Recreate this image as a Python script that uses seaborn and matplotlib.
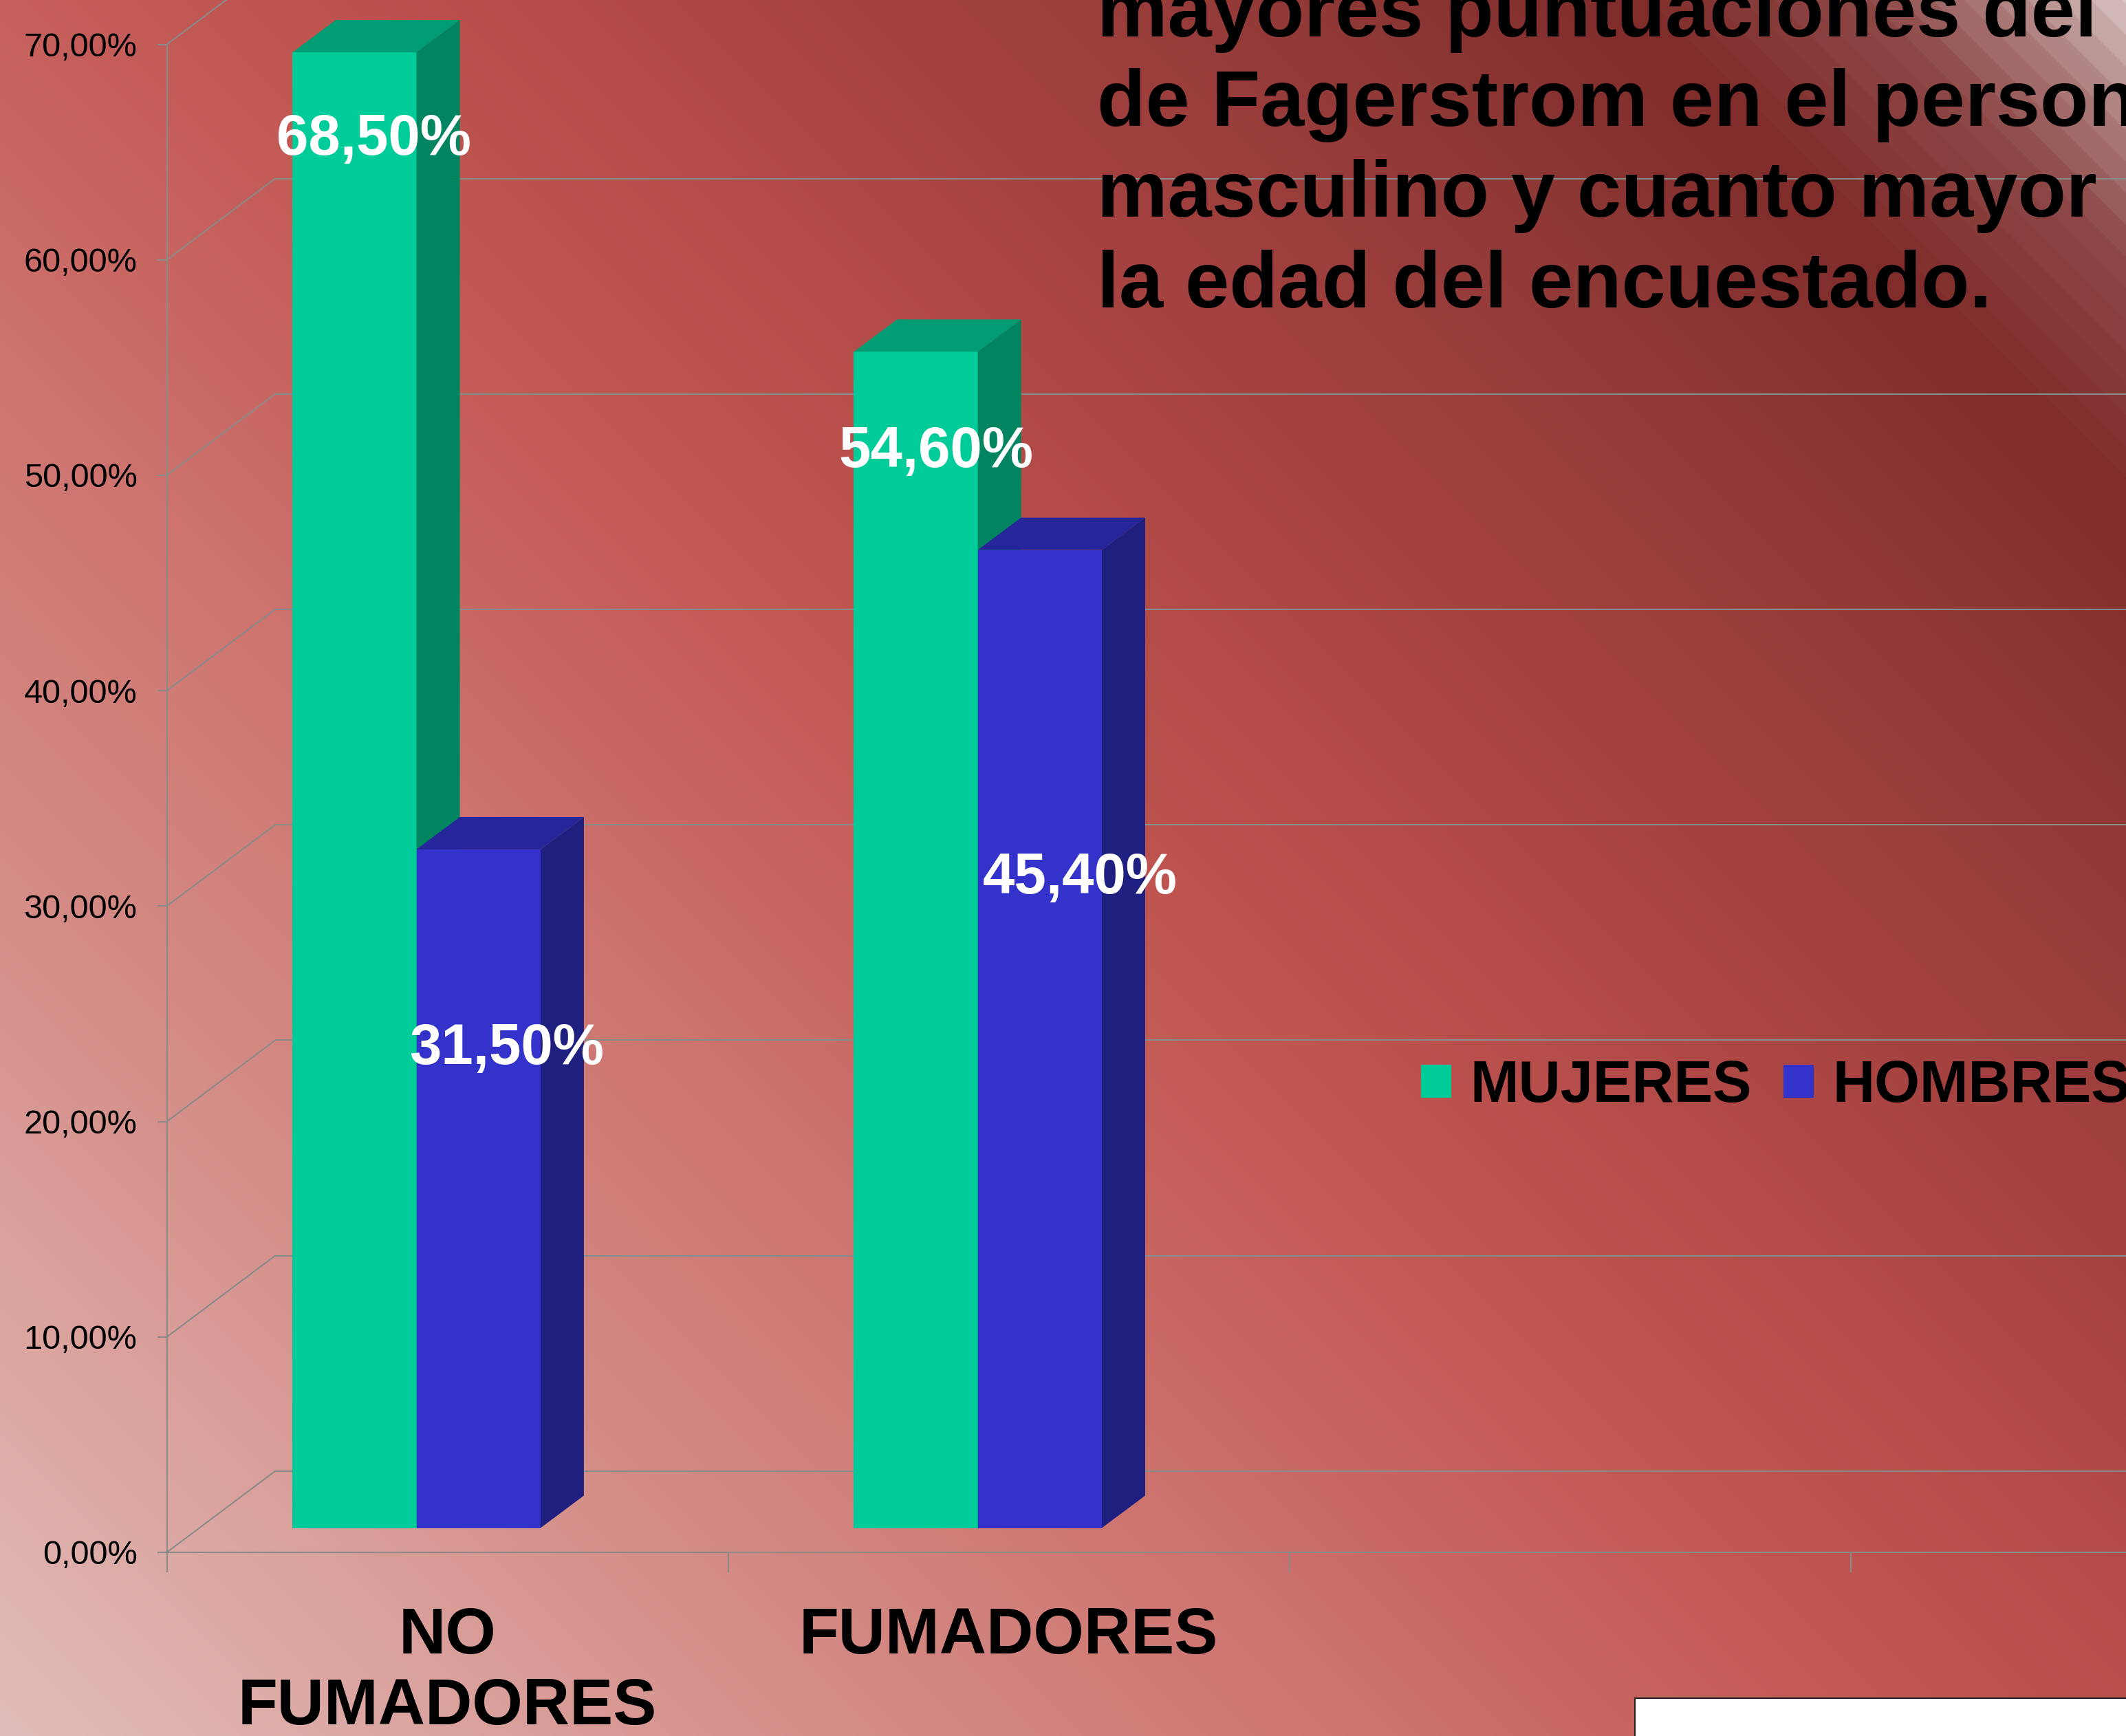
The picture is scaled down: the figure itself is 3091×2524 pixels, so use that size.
import numpy as np
import pandas as pd
from matplotlib import pyplot as plt
from matplotlib.patches import Polygon, Rectangle
import seaborn as sns

# data
grupos = ['NO FUMADORES', 'FUMADORES']
etiquetas_grupo = ['NO\nFUMADORES', 'FUMADORES']
sexos = ['MUJERES', 'HOMBRES']
mujeres = [68.5, 54.6]
hombres = [31.5, 45.4]
y_ticks = [0, 10, 20, 30, 40, 50, 60, 70]
titulo = ['mayores puntuaciones del',
          'de Fagerstrom en el person',
          'masculino y cuanto mayor',
          'la edad del encuestado.']

# colours (front, side, top of each 3d column)
frente = {'MUJERES': '#00CC99', 'HOMBRES': '#3333CC'}
lado = {'MUJERES': '#008560', 'HOMBRES': '#1F1F80'}
techo = {'MUJERES': '#009D74', 'HOMBRES': '#26269A'}
gris = '#8a8a8a'

# layout in pixels (figure is 3091 x 2524 at 100 dpi)
W, H = 3091, 2524
slot_px = 816.1      # width of one category slot
pct_px = 31.32       # pixels per 1 %
left_px, zero_px = 242.5, 2257
n_slots = 4
bar_shift = (-45, 35.5)
wall = (157.7, 118.3)
depth = (63, 47)
# label offsets (slot units, % units) per group / sex
label_off = [[(0.034, -4.05), (0.050, -9.25)],
             [(0.036, -4.65), (0.071, -15.25)]]

sns.set_theme(style='white')
plt.rcParams['font.family'] = ['Liberation Sans', 'DejaVu Sans']
plt.rcParams['text.color'] = 'black'

fig = plt.figure(figsize=(W / 100, H / 100), dpi=100)

# background gradient of the slide
yy, xx = np.mgrid[0:H:2, 0:W:2]
t = xx + (H - yy).astype(float)
t = np.where(t > 4870, np.floor(t / 46) * 46, t)
stops_t = [0, 1324, 1824, 2524, 2924, 3700, 4484, 4870, 5224, 5424, 5615]
stops_c = ['#e2bdb9', '#d48a84', '#d07a75', '#c6605c', '#bf5450', '#a84442',
           '#8e3836', '#7f2c2a', '#8e4a48', '#b08482', '#dccaca']
rgb = np.array([[int(c[i:i + 2], 16) / 255 for i in (1, 3, 5)] for c in stops_c])
img = np.dstack([np.interp(t, stops_t, rgb[:, k]) for k in range(3)])
bg = fig.add_axes([0, 0, 1, 1], zorder=-10)
bg.imshow(img, extent=(0, W, H, 0), aspect='auto', interpolation='bilinear')
bg.set_xlim(0, W)
bg.set_ylim(H, 0)
bg.axis('off')

ax_w = n_slots * slot_px / W
ax_h = max(y_ticks) * pct_px / H
ax = fig.add_axes([left_px / W, (H - zero_px) / H, ax_w, ax_h], zorder=0)
ax_bar = fig.add_axes([(left_px + bar_shift[0]) / W, (H - zero_px + bar_shift[1]) / H, ax_w, ax_h],
                      zorder=1)

df = pd.DataFrame({
    'grupo': grupos * 2,
    'sexo': [sexos[0]] * len(grupos) + [sexos[1]] * len(grupos),
    'pct': mujeres + hombres,
})
sns.barplot(data=df, x='grupo', y='pct', hue='sexo', order=grupos, hue_order=sexos,
            palette=frente, width=0.442, saturation=1, errorbar=None,
            linewidth=0, ax=ax_bar)

for a in (ax, ax_bar):
    a.set_xlim(-0.5, n_slots - 0.5)
    a.set_ylim(0, max(y_ticks))
    a.patch.set_visible(False)

# 3d faces of each column
ddx, ddy = depth[0] / slot_px, depth[1] / pct_px
for j, (cont, sexo) in enumerate(zip(ax_bar.containers, sexos)):
    for i, bar in enumerate(cont):
        x0, w, h = bar.get_x(), bar.get_width(), bar.get_height()
        x1 = x0 + w
        z = 3 + 3 * (2 * i + j)
        bar.set_zorder(z)
        bar.set_clip_on(False)
        ax_bar.add_patch(Polygon([(x1, 0), (x1 + ddx, ddy), (x1 + ddx, h + ddy), (x1, h)],
                                 closed=True, facecolor=lado[sexo], edgecolor='none',
                                 zorder=z + 1, clip_on=False))
        ax_bar.add_patch(Polygon([(x0, h), (x0 + ddx, h + ddy), (x1 + ddx, h + ddy), (x1, h)],
                                 closed=True, facecolor=techo[sexo], edgecolor='none',
                                 zorder=z + 1, clip_on=False))
        dx, dy = label_off[i][j]
        ax_bar.text(x0 + w / 2 + dx, h + dy, f'{h:.2f}%'.replace('.', ','),
                    ha='center', va='center', color='white', fontsize=60,
                    fontweight='bold', zorder=60)

ax_bar.set_xlabel('')
ax_bar.set_ylabel('')
ax_bar.set_xticks([])
ax_bar.set_yticks([])
for s in ax_bar.spines.values():
    s.set_visible(False)

sns.move_legend(ax_bar, 'center left', bbox_to_anchor=(2066 / W, 1 - 1580 / H),
                bbox_transform=fig.transFigure, ncol=2, frameon=False, title=None,
                prop={'size': 61, 'weight': 'bold'}, handlelength=0.52, handleheight=0.51,
                handletextpad=0.32, columnspacing=0.55, borderpad=0, borderaxespad=0,
                labelcolor='black')

# back wall and side wall of the 3d box
wdx, wdy = wall[0] / slot_px, wall[1] / pct_px
ax.hlines([k + wdy for k in y_ticks], -0.5 + wdx, n_slots - 0.5 + wdx,
          colors=gris, linewidth=1.5, clip_on=False, zorder=1)
for k in y_ticks:
    ax.plot([-0.5, -0.5 + wdx], [k, k + wdy], color=gris, linewidth=1.5,
            clip_on=False, zorder=1)

# front axes: ticks and labels
ax.set_yticks(y_ticks, [f'{v:.2f}%'.replace('.', ',') for v in y_ticks])
ax.set_xticks(range(len(grupos)), etiquetas_grupo)
ax.set_xticks(np.arange(-0.5, n_slots), minor=True)
ax.tick_params(axis='y', which='major', left=True, length=10, width=1.5, color=gris,
               pad=21, labelsize=35, labelcolor='black')
ax.tick_params(axis='x', which='major', bottom=True, length=0, pad=56, labelsize=68,
               labelcolor='black')
ax.tick_params(axis='x', which='minor', bottom=True, length=21, width=1.5, color=gris)
for lab in ax.get_xticklabels():
    lab.set_fontweight('bold')
for side in ('top', 'right'):
    ax.spines[side].set_visible(False)
for side in ('left', 'bottom'):
    ax.spines[side].set_color(gris)
    ax.spines[side].set_linewidth(1.5)
ax.spines['bottom'].set_clip_on(False)
ax.grid(False)

# slide text, cut by the picture edge as in the slide
baselines = [53, 183, 315, 447]
for linea, b in zip(titulo, baselines):
    fig.text(1595 / W, 1 - b / H, linea, fontsize=83, fontweight='bold',
             color='black', ha='left', va='baseline', zorder=20)

# white box in the lower right corner
fig.add_artist(Rectangle((2377 / W, -0.01), (W - 2377) / W + 0.02, 55 / H + 0.01,
                         transform=fig.transFigure, facecolor='white',
                         edgecolor='#222222', linewidth=1.5, zorder=20))

fig.savefig('out.png', dpi=100)
